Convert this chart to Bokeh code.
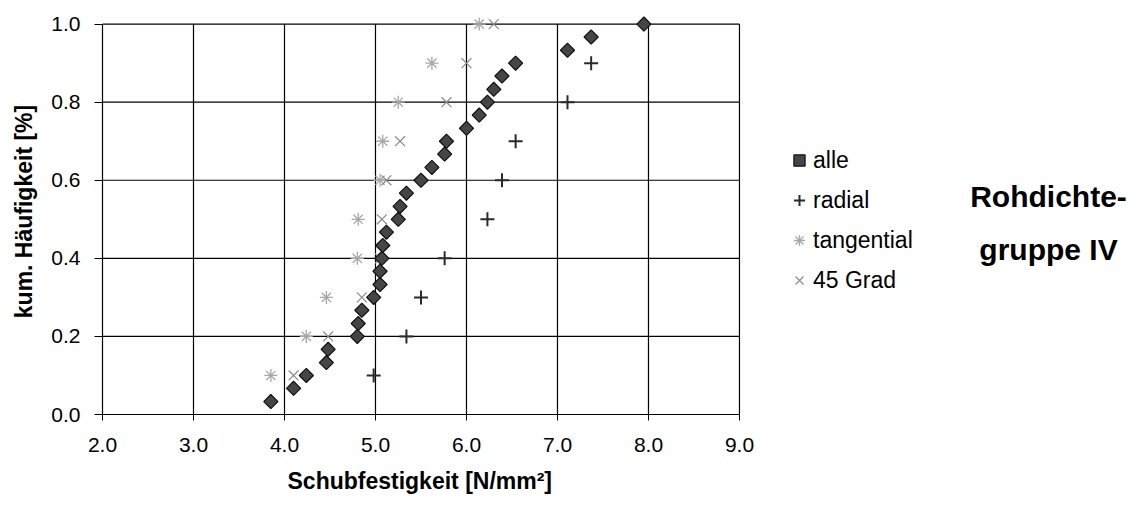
from bokeh.plotting import figure
from bokeh.models import Range1d, FixedTicker, PrintfTickFormatter, Legend, LegendItem, Label, Title
from bokeh.embed import file_html
from bokeh.resources import INLINE

# ---- data ----
x_ticks = [2.0, 3.0, 4.0, 5.0, 6.0, 7.0, 8.0, 9.0]
y_ticks = [0.0, 0.2, 0.4, 0.6, 0.8, 1.0]

alle_x = [3.85, 4.10, 4.24, 4.46, 4.48, 4.80, 4.81, 4.85, 4.98, 5.05,
          5.05, 5.07, 5.08, 5.12, 5.25, 5.27, 5.34, 5.50, 5.62, 5.76,
          5.78, 6.00, 6.14, 6.23, 6.30, 6.39, 6.54, 7.11, 7.37, 7.95]
alle_y = [0.033, 0.067, 0.100, 0.133, 0.167, 0.200, 0.233, 0.267, 0.300, 0.333,
          0.367, 0.400, 0.433, 0.467, 0.500, 0.533, 0.567, 0.600, 0.633, 0.667,
          0.700, 0.733, 0.767, 0.800, 0.833, 0.867, 0.900, 0.933, 0.967, 1.000]

radial_x = [4.98, 5.34, 5.50, 5.76, 6.23, 6.39, 6.54, 7.11, 7.37, 7.95]
radial_y = [0.1, 0.2, 0.3, 0.4, 0.5, 0.6, 0.7, 0.8, 0.9, 1.0]

tang_x = [3.85, 4.24, 4.46, 4.80, 4.81, 5.05, 5.08, 5.25, 5.62, 6.14]
tang_y = [0.1, 0.2, 0.3, 0.4, 0.5, 0.6, 0.7, 0.8, 0.9, 1.0]

grad45_x = [4.10, 4.48, 4.85, 5.05, 5.07, 5.12, 5.27, 5.78, 6.00, 6.30]
grad45_y = [0.1, 0.2, 0.3, 0.4, 0.5, 0.6, 0.7, 0.8, 0.9, 1.0]

series_names = ["alle", "radial", "tangential", "45 Grad"]
x_title = "Schubfestigkeit [N/mm²]"
y_title = "kum. Häufigkeit [%]"
side_title = ["Rohdichte-", "gruppe IV"]

FONT = "Liberation Sans"

# frame spans to the right edge so legend and side title are not clipped;
# grid lines and axes are bounded to the 2..9 / 0..1 area
p = figure(width=1138, height=510, output_backend="svg", toolbar_location=None,
           x_range=Range1d(2.0, 13.385), y_range=Range1d(0.0, 1.04),
           min_border_left=102, min_border_right=0,
           min_border_top=8, min_border_bottom=96)
p.outline_line_color = None
p.xgrid.grid_line_color = None
p.ygrid.grid_line_color = None
p.background_fill_color = "white"

# grid lines drawn from the tick lists
n_x = len(x_ticks) - 1
n_y = len(y_ticks) - 1
p.segment(x0=x_ticks[1:], x1=x_ticks[1:], y0=[y_ticks[0]] * n_x, y1=[y_ticks[-1]] * n_x,
          line_color="black", line_width=1.2)
p.segment(x0=[x_ticks[0]] * n_y, x1=[x_ticks[-1]] * n_y, y0=y_ticks[1:], y1=y_ticks[1:],
          line_color="black", line_width=1.2)

r_tang = p.scatter(tang_x, tang_y, marker="asterisk", size=13, line_color="#a8a8a8", line_width=1.3)
r_45 = p.scatter(grad45_x, grad45_y, marker="x", size=14, line_color="#8a8a8a", line_width=1.2)
r_rad = p.scatter(radial_x, radial_y, marker="cross", size=14, line_color="#2a2a2a", line_width=2)
r_alle = p.scatter(alle_x, alle_y, marker="square", angle=0.785398, size=10,
                   fill_color="#454545", line_color="#111111", line_width=1.2)

for ax in (p.xaxis[0], p.yaxis[0]):
    ax.axis_line_color = "black"
    ax.axis_line_width = 1.2
    ax.major_tick_line_color = "black"
    ax.major_tick_in = 0
    ax.minor_tick_line_color = None
    ax.major_label_text_font = FONT
    ax.major_label_text_font_size = "21px"
    ax.major_label_text_color = "black"
    ax.axis_label_text_font = FONT
    ax.axis_label_text_font_size = "23px"
    ax.axis_label_text_font_style = "bold"
    ax.axis_label_text_color = "black"
    ax.formatter = PrintfTickFormatter(format="%.1f")

p.xaxis[0].ticker = FixedTicker(ticks=x_ticks)
p.yaxis[0].ticker = FixedTicker(ticks=y_ticks)
p.xaxis[0].bounds = (x_ticks[0], x_ticks[-1])
p.yaxis[0].bounds = (y_ticks[0], y_ticks[-1])
p.xaxis[0].major_tick_out = 6
p.yaxis[0].major_tick_out = 8
p.xaxis[0].major_label_standoff = 17
p.yaxis[0].major_label_standoff = 14
p.yaxis[0].axis_label = y_title
p.yaxis[0].axis_label_standoff = 11

# x-axis title, left-aligned under the 2..9 plot area
p.add_layout(Title(text=x_title, align="left", offset=185, standoff=22,
                   text_font=FONT, text_font_size="23px", text_font_style="bold",
                   text_color="black"), "below")

legend = Legend(items=[LegendItem(label=series_names[0], renderers=[r_alle]),
                       LegendItem(label=series_names[1], renderers=[r_rad]),
                       LegendItem(label=series_names[2], renderers=[r_tang]),
                       LegendItem(label=series_names[3], renderers=[r_45])],
                location=(683, 120), padding=0, margin=0, spacing=12,
                glyph_width=28, glyph_height=28, label_height=28, label_standoff=0,
                label_text_font=FONT, label_text_font_size="23px", label_text_color="black",
                border_line_color=None, background_fill_alpha=0)
p.add_layout(legend, "center")

p.add_layout(Label(x=946, y=218, x_units="screen", y_units="screen", text=side_title[0],
                   text_font=FONT, text_font_size="30px", text_font_style="bold",
                   text_color="black", text_align="center", text_baseline="middle"))
p.add_layout(Label(x=946, y=165, x_units="screen", y_units="screen", text=side_title[1],
                   text_font=FONT, text_font_size="30px", text_font_style="bold",
                   text_color="black", text_align="center", text_baseline="middle"))

open("out.html", "w").write(file_html(p, INLINE))
